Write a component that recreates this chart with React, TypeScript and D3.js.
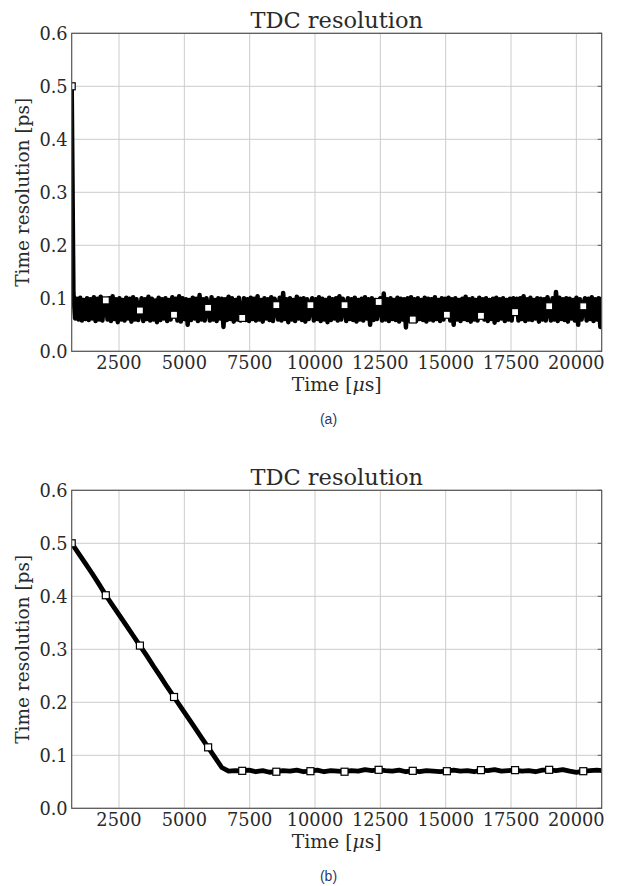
import React, { useEffect, useRef } from "react";
import * as d3 from "d3";

// ---------- data ----------
const chartTitle = "TDC resolution";
const yAxisLabel = "Time resolution [ps]";
const captions = ["(a)", "(b)"];
const xTicks = [2500, 5000, 7500, 10000, 12500, 15000, 17500, 20000];
const yTicks = [0.0, 0.1, 0.2, 0.3, 0.4, 0.5, 0.6];
const xDomain = [690, 20970];
const yDomain = [0, 0.6];

const sampleStartUs = 690;

// panel (a): noisy resolution, sampled every 65.25 µs, marker every 20 samples
const topStepUs = 65.25;
const topMarkEvery = 20;
const topValues = [
  0.5, 0.11, 0.062, 0.099, 0.06, 0.101, 0.058, 0.097, 0.061, 0.1, 0.059, 0.098, 0.062, 0.102, 0.057, 0.099, 0.06, 0.103, 0.058, 0.097,
  0.096, 0.06, 0.1, 0.057, 0.104, 0.061, 0.098, 0.055, 0.1, 0.06, 0.097, 0.058, 0.101, 0.062, 0.099, 0.056, 0.102, 0.06, 0.098, 0.059,
  0.077, 0.1, 0.057, 0.098, 0.061, 0.103, 0.058, 0.099, 0.06, 0.096, 0.055, 0.101, 0.059, 0.098, 0.062, 0.1, 0.057, 0.097, 0.06, 0.102,
  0.069, 0.099, 0.058, 0.104, 0.056, 0.1, 0.061, 0.098, 0.05, 0.097, 0.059, 0.101, 0.062, 0.099, 0.057, 0.106, 0.06, 0.098, 0.058, 0.1,
  0.082, 0.058, 0.102, 0.06, 0.097, 0.057, 0.1, 0.062, 0.099, 0.046, 0.098, 0.059, 0.103, 0.061, 0.1, 0.056, 0.097, 0.06, 0.101, 0.058,
  0.063, 0.1, 0.059, 0.098, 0.057, 0.101, 0.061, 0.099, 0.058, 0.104, 0.06, 0.097, 0.056, 0.1, 0.062, 0.098, 0.059, 0.102, 0.057, 0.099,
  0.087, 0.06, 0.101, 0.058, 0.11, 0.061, 0.098, 0.055, 0.1, 0.06, 0.097, 0.057, 0.103, 0.062, 0.099, 0.059, 0.1, 0.056, 0.098, 0.061,
  0.087, 0.1, 0.058, 0.098, 0.061, 0.102, 0.057, 0.099, 0.06, 0.097, 0.055, 0.101, 0.059, 0.098, 0.062, 0.1, 0.058, 0.104, 0.06, 0.099,
  0.087, 0.057, 0.1, 0.061, 0.098, 0.059, 0.101, 0.056, 0.097, 0.06, 0.099, 0.058, 0.102, 0.062, 0.098, 0.05, 0.1, 0.059, 0.097, 0.061,
  0.093, 0.1, 0.058, 0.109, 0.06, 0.098, 0.057, 0.1, 0.061, 0.097, 0.059, 0.101, 0.056, 0.099, 0.06, 0.098, 0.045, 0.1, 0.058, 0.102,
  0.06, 0.098, 0.057, 0.1, 0.061, 0.097, 0.059, 0.101, 0.056, 0.099, 0.06, 0.098, 0.058, 0.102, 0.061, 0.097, 0.057, 0.1, 0.06, 0.099,
  0.069, 0.101, 0.058, 0.098, 0.05, 0.1, 0.06, 0.097, 0.057, 0.099, 0.061, 0.103, 0.059, 0.098, 0.056, 0.1, 0.06, 0.097, 0.058, 0.101,
  0.067, 0.098, 0.06, 0.1, 0.057, 0.097, 0.061, 0.099, 0.054, 0.101, 0.059, 0.098, 0.062, 0.1, 0.057, 0.097, 0.06, 0.099, 0.058, 0.1,
  0.074, 0.099, 0.058, 0.1, 0.061, 0.104, 0.057, 0.098, 0.06, 0.101, 0.059, 0.097, 0.062, 0.1, 0.056, 0.099, 0.06, 0.098, 0.058, 0.102,
  0.085, 0.058, 0.1, 0.06, 0.112, 0.057, 0.101, 0.061, 0.098, 0.059, 0.1, 0.056, 0.099, 0.062, 0.097, 0.058, 0.101, 0.05, 0.098, 0.06,
  0.085, 0.1, 0.058, 0.099, 0.061, 0.102, 0.057, 0.098, 0.06, 0.1, 0.046, 0.099, 0.059, 0.097,
];

// panel (b): smoothed resolution, sampled every 261 µs, marker every 5 samples
const bottomStepUs = 261;
const bottomMarkEvery = 5;
const bottomValues = [
  0.5, 0.481, 0.462, 0.443, 0.423, 0.402, 0.383, 0.364, 0.345, 0.326,
  0.307, 0.288, 0.268, 0.249, 0.229, 0.21, 0.191, 0.172, 0.153, 0.134,
  0.115, 0.096, 0.077, 0.07, 0.071, 0.0707, 0.072, 0.069, 0.071, 0.068,
  0.069, 0.071, 0.07, 0.072, 0.069, 0.07, 0.072, 0.069, 0.071, 0.07,
  0.069, 0.071, 0.07, 0.073, 0.071, 0.0726, 0.071, 0.07, 0.072, 0.069,
  0.0707, 0.069, 0.071, 0.07, 0.069, 0.07, 0.072, 0.07, 0.071, 0.069,
  0.072, 0.071, 0.073, 0.07, 0.071, 0.072, 0.07, 0.071, 0.069, 0.072,
  0.0726, 0.071, 0.073, 0.07, 0.068, 0.07, 0.071, 0.072, 0.071,
];

const panels = [
  { values: topValues, step: topStepUs, markEvery: topMarkEvery, lineWidth: 4.5, top: 33.3, caption: captions[0] },
  { values: bottomValues, step: bottomStepUs, markEvery: bottomMarkEvery, lineWidth: 4.8, top: 490.3, caption: captions[1] },
];

const W = 619;
const H = 886;
const plotLeft = 71.7;
const plotRight = 601.7;
const plotHeight = 318;
const serif = "'DejaVu Serif', serif";
const textColor = "#2a2a2a";

export default function App() {
  const ref = useRef<SVGSVGElement | null>(null);

  useEffect(() => {
    const svg = d3.select(ref.current);
    svg.selectAll("*").remove();

    panels.forEach((p, pi) => {
      const x = d3.scaleLinear().domain(xDomain).range([plotLeft, plotRight]);
      const y = d3.scaleLinear().domain(yDomain).range([p.top + plotHeight, p.top]);
      const g = svg.append("g");
      const clipId = `clip-${pi}`;
      g.append("clipPath")
        .attr("id", clipId)
        .append("rect")
        .attr("x", plotLeft)
        .attr("y", p.top)
        .attr("width", plotRight - plotLeft)
        .attr("height", plotHeight);

      // grid
      g.selectAll(".vgrid")
        .data(xTicks)
        .join("line")
        .attr("x1", (d) => x(d))
        .attr("x2", (d) => x(d))
        .attr("y1", p.top)
        .attr("y2", p.top + plotHeight)
        .attr("stroke", "#cccccc")
        .attr("stroke-width", 1);
      g.selectAll(".hgrid")
        .data(yTicks)
        .join("line")
        .attr("x1", plotLeft)
        .attr("x2", plotRight)
        .attr("y1", (d) => y(d))
        .attr("y2", (d) => y(d))
        .attr("stroke", "#cccccc")
        .attr("stroke-width", 1);

      // right-side inward ticks
      g.selectAll(".rtick")
        .data(yTicks)
        .join("line")
        .attr("x1", plotRight - 4)
        .attr("x2", plotRight)
        .attr("y1", (d) => y(d))
        .attr("y2", (d) => y(d))
        .attr("stroke", "#555")
        .attr("stroke-width", 1);

      const pts = p.values.map((v, i) => ({ t: sampleStartUs + i * p.step, v, i }));
      const line = d3
        .line<{ t: number; v: number }>()
        .x((d) => x(d.t))
        .y((d) => y(d.v));

      const dg = g.append("g").attr("clip-path", `url(#${clipId})`);
      dg.append("path")
        .attr("d", line(pts))
        .attr("fill", "none")
        .attr("stroke", "#000")
        .attr("stroke-width", p.lineWidth)
        .attr("stroke-linejoin", "round")
        .attr("stroke-linecap", "round");

      const ms = 7;
      dg.selectAll(".mk")
        .data(pts.filter((d) => d.i % p.markEvery === 0))
        .join("rect")
        .attr("x", (d) => x(d.t) - ms / 2)
        .attr("y", (d) => y(d.v) - ms / 2)
        .attr("width", ms)
        .attr("height", ms)
        .attr("fill", "#fff")
        .attr("stroke", "#000")
        .attr("stroke-width", 1.2);

      // frame
      g.append("rect")
        .attr("x", plotLeft)
        .attr("y", p.top)
        .attr("width", plotRight - plotLeft)
        .attr("height", plotHeight)
        .attr("fill", "none")
        .attr("stroke", "#555")
        .attr("stroke-width", 1.2);

      // tick labels
      g.selectAll(".xl")
        .data(xTicks)
        .join("text")
        .attr("x", (d) => x(d))
        .attr("y", p.top + plotHeight + 18)
        .attr("text-anchor", "middle")
        .attr("font-family", serif)
        .attr("font-size", 17.8)
        .attr("fill", textColor)
        .text((d) => String(d));
      g.selectAll(".yl")
        .data(yTicks)
        .join("text")
        .attr("x", plotLeft - 4)
        .attr("y", (d) => y(d))
        .attr("dy", "0.36em")
        .attr("text-anchor", "end")
        .attr("font-family", serif)
        .attr("font-size", 17.8)
        .attr("fill", textColor)
        .text((d) => d3.format(".1f")(d));

      // title
      g.append("text")
        .attr("x", (plotLeft + plotRight) / 2)
        .attr("y", p.top - 5)
        .attr("text-anchor", "middle")
        .attr("font-family", serif)
        .attr("font-size", 22.5)
        .attr("fill", textColor)
        .text(chartTitle);

      // x label
      const xl = g
        .append("text")
        .attr("x", (plotLeft + plotRight) / 2)
        .attr("y", p.top + plotHeight + 40)
        .attr("text-anchor", "middle")
        .attr("font-family", serif)
        .attr("font-size", 18.8)
        .attr("fill", textColor);
      xl.append("tspan").text("Time [");
      xl.append("tspan").attr("font-style", "italic").text("\u03bc");
      xl.append("tspan").text("s]");

      // y label
      g.append("text")
        .attr("transform", `translate(29, ${p.top + plotHeight / 2}) rotate(-90)`)
        .attr("text-anchor", "middle")
        .attr("font-family", serif)
        .attr("font-size", 18.5)
        .attr("fill", textColor)
        .text(yAxisLabel);

      // caption
      g.append("text")
        .attr("x", 328.5)
        .attr("y", p.top + plotHeight + 73)
        .attr("text-anchor", "middle")
        .attr("font-family", "'Liberation Sans', 'Noto Sans', sans-serif")
        .attr("font-size", 14)
        .attr("fill", "#2b3a67")
        .text(p.caption);
    });
  }, []);

  return (
    <svg
      ref={ref}
      width={W}
      height={H}
      style={{ position: "absolute", left: 0, top: 0, background: "#fff" }}
    />
  );
}
